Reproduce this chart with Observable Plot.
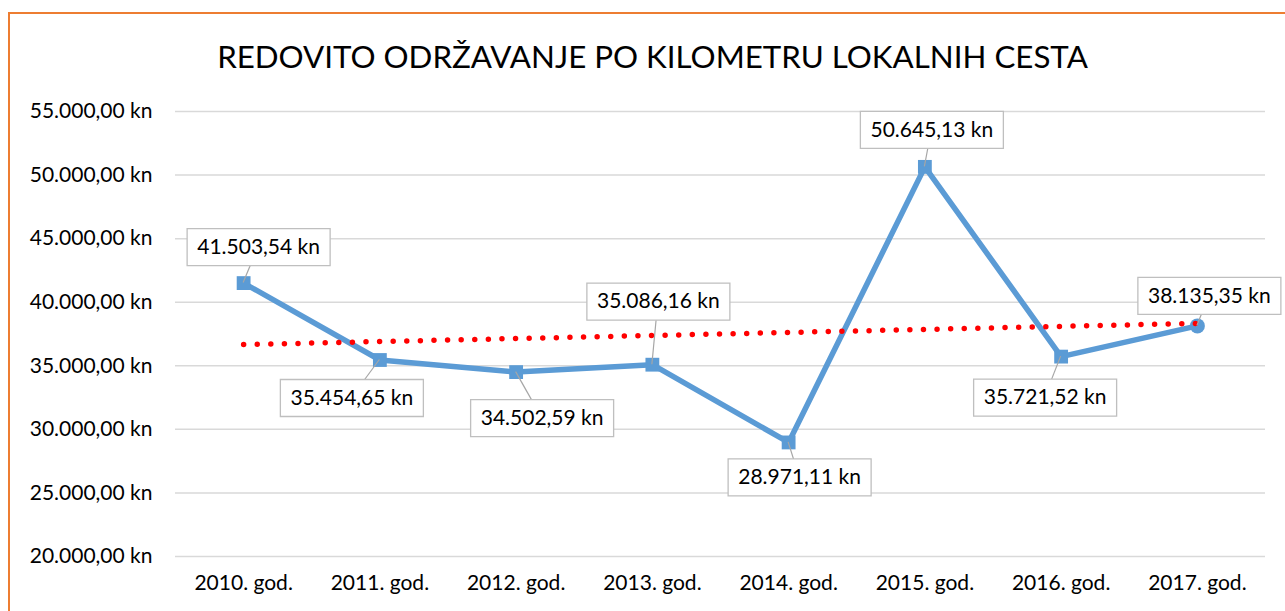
<!DOCTYPE html>
<html>
<head>
<meta charset="utf-8">
<script src="https://cdn.jsdelivr.net/npm/d3@7"></script>
<script src="https://cdn.jsdelivr.net/npm/@observablehq/plot@0.6"></script>
<style>
  html, body { margin: 0; padding: 0; background: #fff; }
  #wrap { position: relative; width: 1285px; height: 611px; overflow: hidden; font-family: Lato, "Open Sans", sans-serif; }
  #frame { position: absolute; left: 8px; top: 12px; width: 1300px; height: 700px; border-left: 2.5px solid #ed7d31; border-top: 2.5px solid #ed7d31; box-sizing: border-box; }
  #title { position: absolute; left: 0; width: 1305px; top: 36px; text-align: center; font-size: 31.3px; color: #000; line-height: 40px; }
  #chart { position: absolute; left: 0; top: 0; }
</style>
</head>
<body>
<div id="wrap">
  <div id="frame"></div>
  <div id="chart"></div>
  <div id="title">REDOVITO ODRŽAVANJE PO KILOMETRU LOKALNIH CESTA</div>
</div>
<script>
const years = ["2010. god.", "2011. god.", "2012. god.", "2013. god.", "2014. god.", "2015. god.", "2016. god.", "2017. god."];
const values = [41503.54, 35454.65, 34502.59, 35086.16, 28971.11, 50645.13, 35721.52, 38135.35];
const yTicks = [20000, 25000, 30000, 35000, 40000, 45000, 50000, 55000];
// label placement (pixel offsets of each data label from its point)
const labelOffsets = [[15, -36], [-28, 38], [26, 46], [6, -63], [11, 35], [7, -37], [-16, 41], [12, -30]];

const hr = d3.formatLocale({decimal: ",", thousands: ".", grouping: [3], currency: ["", " kn"]});
const fmt = hr.format("$,.2f");

const data = values.map((v, i) => ({i, v, year: years[i], label: fmt(v)}));
const FONT = "Lato, 'Open Sans', sans-serif";
const FS = 21;

const boxSymbol = {draw(ctx) { ctx.rect(-71.5, -18.5, 143, 37); }};

const leaders = Plot.dot(data, {
  x: "i", y: "v", r: 0,
  render: (index, scales, vals) => {
    const g = d3.create("svg:g");
    for (const k of index) {
      const [ox, oy] = labelOffsets[k];
      g.append("line")
        .attr("x1", vals.x[k]).attr("y1", vals.y[k])
        .attr("x2", vals.x[k] + ox).attr("y2", vals.y[k] + oy)
        .attr("stroke", "#a6a6a6").attr("stroke-width", 1.2);
    }
    return g.node();
  }
});

const boxes = data.map((d, k) => Plot.dot([d], {
  x: "i", y: "v", dx: labelOffsets[k][0], dy: labelOffsets[k][1],
  symbol: boxSymbol, r: 10, fill: "white", stroke: "#bfbfbf", strokeWidth: 1.3
}));
const texts = data.map((d, k) => Plot.text([d], {
  x: "i", y: "v", dx: labelOffsets[k][0], dy: labelOffsets[k][1],
  text: "label", fontSize: FS, fill: "#000"
}));

const chart = Plot.plot({
  width: 1285,
  height: 611,
  marginLeft: 175,
  marginRight: 20,
  marginTop: 111,
  marginBottom: 55,
  style: {fontFamily: FONT, fontSize: FS + "px", color: "#000", background: "transparent", overflow: "visible"},
  x: {type: "linear", domain: [-0.5, 7.5], ticks: d3.range(years.length), tickFormat: i => years[i], label: null},
  y: {domain: [20000, 55000], ticks: yTicks, tickFormat: fmt, label: null},
  marks: [
    Plot.gridY(yTicks, {stroke: "#d9d9d9", strokeOpacity: 1, strokeWidth: 1.5}),
    Plot.axisY(yTicks, {tickSize: 0, tickPadding: 23, tickFormat: fmt, fontSize: FS, label: null}),
    Plot.axisX(d3.range(years.length), {tickSize: 0, tickPadding: 19, tickFormat: i => years[i], fontSize: FS, label: null}),
    Plot.line(data, {x: "i", y: "v", stroke: "#5b9bd5", strokeWidth: 5.5, strokeLinejoin: "miter"}),
    Plot.dot(data.slice(0, 7), {x: "i", y: "v", symbol: "square", r: 7.8, fill: "#5b9bd5"}),
    Plot.dot(data.slice(7), {x: "i", y: "v", symbol: "circle", r: 7.5, fill: "#5b9bd5"}),
    Plot.linearRegressionY(data, {x: "i", y: "v", stroke: "#ff0000", strokeWidth: 5.5, strokeDasharray: "0 13.6", strokeLinecap: "round", ci: 0}),
    leaders,
    ...boxes,
    ...texts
  ]
});
document.getElementById("chart").appendChild(chart);
</script>
</body>
</html>
